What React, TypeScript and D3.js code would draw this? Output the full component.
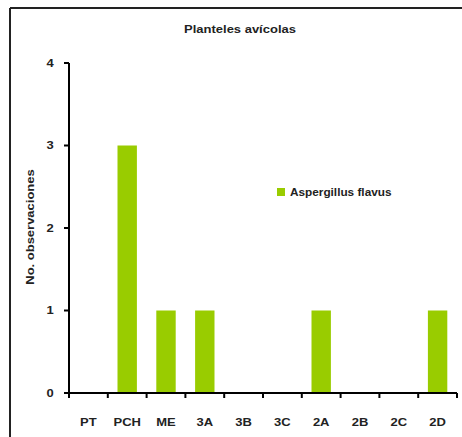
import React from "react";
import * as d3 from "d3";

const categories = ["PT", "PCH", "ME", "3A", "3B", "3C", "2A", "2B", "2C", "2D"];
const values = [0, 3, 1, 1, 0, 0, 1, 0, 0, 1];
const yTicks = [0, 1, 2, 3, 4];
const title = "Planteles avícolas";
const yLabel = "No. observaciones";
const seriesName = "Aspergillus flavus";

const font = "Liberation Sans, Arial, sans-serif";
const SX = 1.3;

function T({ x, y, children, anchor = "middle", rot = 0, size = 10, sx = SX }: any) {
  return (
    <text
      transform={`translate(${x},${y}) rotate(${rot}) scale(${sx},1)`}
      textAnchor={anchor}
      fontSize={size}
      fontWeight="bold"
      fill="#222"
    >
      {children}
    </text>
  );
}

export default function App() {
  const W = 462, H = 437;
  const x0 = 69, x1 = 457, yTop = 63, yBot = 393;
  const xb = d3.scaleBand<string>().domain(categories).range([x0, x1]);
  const y = d3.scaleLinear().domain([0, 4]).range([yBot, yTop]);
  const green = "#99cc00";
  return (
    <svg width={W} height={H} style={{ position: "absolute", left: 0, top: 0, background: "#fff", display: "block" }} fontFamily={font}>
      <line x1={10} x2={W} y1={8} y2={8} stroke="#222" strokeWidth={2} />
      <line x1={10} x2={10} y1={8} y2={H} stroke="#222" strokeWidth={2} />
      <T x={240} y={33}>{title}</T>
      {values.map((v, i) => (
        <rect key={i} x={xb(categories[i])! + xb.bandwidth() * 0.25} y={y(v)} width={xb.bandwidth() * 0.5} height={yBot - y(v)} fill={green} />
      ))}
      <line x1={x0} x2={x0} y1={yTop} y2={yBot} stroke="#000" strokeWidth={2} />
      <line x1={x0} x2={x1} y1={yBot} y2={yBot} stroke="#000" strokeWidth={2} />
      {yTicks.map((t) => (
        <g key={t}>
          <line x1={x0 - 5} x2={x0} y1={y(t)} y2={y(t)} stroke="#000" strokeWidth={2} />
          <T x={50} y={y(t) + 3.5}>{t}</T>
        </g>
      ))}
      {categories.map((c, i) => (
        <line key={"t" + i} x1={xb(c)!} x2={xb(c)!} y1={yBot} y2={yBot + 5} stroke="#000" strokeWidth={2} />
      ))}
      <line x1={x1} x2={x1} y1={yBot} y2={yBot + 5} stroke="#000" strokeWidth={2} />
      {categories.map((c) => (
        <T key={"l" + c} x={xb(c)! + xb.bandwidth() / 2} y={426}>{c}</T>
      ))}
      <T x={34} y={227} rot={-90}>{yLabel}</T>
      <rect x={277} y={188} width={8} height={8} fill={green} />
      <T x={290} y={196} anchor="start" sx={1.18}>{seriesName}</T>
    </svg>
  );
}
